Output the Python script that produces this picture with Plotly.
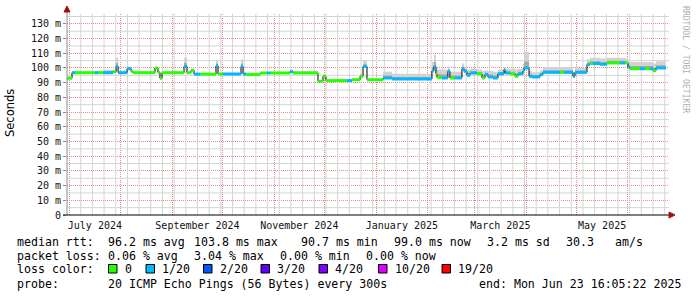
import pandas as pd
import plotly.graph_objects as go

# ---------------- data ----------------
seg_start = [
    "2024-06-29T19:00", "2024-07-02T19:00", "2024-07-04T14:00", "2024-07-16T14:00", "2024-07-18T10:00",
    "2024-07-21T10:00", "2024-07-27T10:00", "2024-07-29T05:00", "2024-07-30T10:00", "2024-08-04T19:00",
    "2024-08-07T05:00", "2024-08-08T10:00", "2024-08-21T12:00", "2024-08-23T07:00", "2024-08-24T12:00",
    "2024-08-25T17:00", "2024-09-07T22:00", "2024-09-09T17:00", "2024-09-12T02:00", "2024-09-13T22:00",
    "2024-09-17T12:00", "2024-09-27T02:00", "2024-09-28T07:00", "2024-10-01T07:00", "2024-10-12T02:00",
    "2024-10-13T07:00", "2024-10-15T02:00", "2024-10-23T12:00", "2024-10-27T17:00", "2024-10-29T12:00",
    "2024-11-10T10:00", "2024-11-12T05:00", "2024-11-27T05:00", "2024-11-30T05:00", "2024-12-02T00:00",
    "2024-12-14T14:00", "2024-12-17T14:00", "2024-12-22T10:00", "2024-12-24T05:00", "2024-12-26T14:00",
    "2025-01-05T05:00", "2025-01-10T14:00", "2025-02-03T12:00", "2025-02-04T17:00", "2025-02-05T22:00",
    "2025-02-06T12:00", "2025-02-09T12:00", "2025-02-13T02:00", "2025-02-14T07:00", "2025-02-17T07:00",
    "2025-02-21T12:00", "2025-02-22T17:00", "2025-02-24T12:00", "2025-02-26T07:00", "2025-03-02T12:00",
    "2025-03-05T12:00", "2025-03-07T07:00", "2025-03-09T02:00", "2025-03-12T02:00", "2025-03-15T02:00",
    "2025-03-18T17:00", "2025-03-19T07:00", "2025-03-22T07:00", "2025-03-25T07:00", "2025-03-27T02:00",
    "2025-03-30T02:00", "2025-03-30T17:00", "2025-04-02T17:00", "2025-04-04T12:00", "2025-04-09T07:00",
    "2025-04-11T02:00", "2025-04-21T07:00", "2025-04-23T17:00", "2025-04-29T00:00", "2025-04-30T05:00",
    "2025-05-07T10:00", "2025-05-09T05:00", "2025-05-11T00:00", "2025-05-15T05:00", "2025-05-19T10:00",
    "2025-05-27T05:00", "2025-05-30T05:00", "2025-06-01T00:00", "2025-06-02T05:00", "2025-06-08T05:00",
    "2025-06-11T05:00", "2025-06-14T05:00", "2025-06-16T00:00", "2025-06-17T19:00",
]
end_time = "2025-06-23T16:05:22"

median_ms = [
    93, 96.8, 96.8, 96.8, 96.8, 96.8, 97.5, 101, 96.8, 99.5,
    97.7, 96.8, 100, 97, 93, 96.8, 101, 96.8, 98.4, 95.8,
    95.8, 101.5, 95.9, 95.9, 101, 95.9, 95.5, 96.6, 96.6, 96.6,
    97.5, 96.6, 91, 94.3, 91.4, 91.4, 92, 94.3, 101, 92,
    93.2, 92.5, 98, 101, 96, 93.6, 93.2, 97.7, 93.2, 93.2,
    99.5, 97.7, 95, 96.6, 96, 93.2, 95.5, 93.9, 93.2, 96,
    98.9, 96.6, 96, 94.3, 96, 98, 100, 94.3, 93.9, 95.5,
    97, 97, 97, 94.3, 97, 102.3, 103, 103, 102.5, 103.4,
    103.4, 103.4, 100.5, 99.5, 99.5, 99.5, 99.5, 98.2, 100,
]

loss_of_20 = [
    0, 1, 0, 1, 0, 1, 0, 1, 1, 1,
    0, 0, 0, 0, 0, 0, 1, 0, 0, 1,
    0, 1, 0, 1, 1, 1, 0, 0, 1, 0,
    1, 0, 0, 0, 0, 1, 0, 0, 1, 0,
    1, 1, 1, 1, 0, 0, 1, 1, 0, 1,
    1, 1, 1, 1, 0, 0, 1, 1, 1, 1,
    1, 1, 0, 0, 1, 1, 1, 1, 1, 1,
    1, 0, 1, 1, 1, 1, 0, 1, 1, 0,
    1, 0, 1, 0, 1, 0, 1, 0, 1,
]

smoke_hi_ms = [
    93.5, 97.5, 97.3, 97.5, 97.3, 98.8, 98, 107, 97.5, 101,
    98, 97.5, 100.5, 97.5, 93.5, 97.3, 107, 97.3, 99, 96.3,
    96.3, 105.5, 96.4, 96.4, 106, 96.4, 96, 97.1, 97.1, 97.1,
    98, 98, 91.5, 95, 91.9, 91.9, 92.5, 96, 105, 92.7,
    97.5, 96, 104, 109, 100, 99, 99, 101, 97.5, 97.5,
    103, 101, 99, 99.5, 99, 98, 98.5, 98, 97.5, 99,
    100.5, 99.5, 99.5, 99, 99.5, 103, 111, 98, 97, 98.5,
    100.5, 100.5, 100.5, 97, 100, 106, 107, 107, 106.5, 107,
    107, 106.5, 104.5, 104, 104, 104, 104, 103, 104.5,
]

y_tick_vals = [0, 10, 20, 30, 40, 50, 60, 70, 80, 90, 100, 110, 120, 130]
y_tick_text = ["0", "10 m", "20 m", "30 m", "40 m", "50 m", "60 m", "70 m",
               "80 m", "90 m", "100 m", "110 m", "120 m", "130 m"]
month_label_dates = ["2024-07-16T12:00", "2024-09-16", "2024-11-16",
                     "2025-01-16T12:00", "2025-03-16T12:00", "2025-05-16T12:00"]
month_labels = ["July 2024", "September 2024", "November 2024",
                "January 2025", "March 2025", "May 2025"]

loss_labels = ["0", "1/20", "2/20", "3/20", "4/20", "10/20", "19/20"]
loss_colors = ["#26ff00", "#00b8ff", "#0059ff", "#5e00ff", "#7e00ff", "#dd00ff", "#ff0000"]
loss_level_color = {0: loss_colors[0], 1: loss_colors[1]}

legend_rows = [
    [("median rtt:", 16), ("96.2 ms avg", 107), ("103.8 ms max", 193), ("90.7 ms min", 300),
     ("99.0 ms now", 393), ("3.2 ms sd", 486), ("30.3", 565), ("am/s", 614)],
    [("packet loss:", 16), ("0.06 % avg", 107), ("3.04 % max", 193), ("0.00 % min", 279),
     ("0.00 % now", 365)],
    [("loss color:", 16)],
    [("probe:", 16), ("20 ICMP Echo Pings (56 Bytes) every 300s", 107),
     ("end: Mon Jun 23 16:05:22 2025", 478)],
]
legend_row_y = [242, 255.5, 269, 283.5]
loss_box_x = [108.5, 146, 203.5, 261, 319, 378.5, 442]

# ---------------- geometry helpers (pixels -> paper) ----------------
W, H = 697, 297
L, R, T, B = 67, 28, 14, 82
PW, PH = W - L - R, H - T - B


def px(xp):
    return (xp - L) / PW


def py(yp):
    return (H - B - yp) / PH


x_range = ["2024-06-29T19:00", "2025-06-25T14:00"]
y_range = [0, 136.7]

x_step = seg_start + [end_time]
y_step = median_ms + [median_ms[-1]]
hi_step = smoke_hi_ms + [smoke_hi_ms[-1]]
inner_step = [m + 0.4 * (h - m) for m, h in zip(y_step, hi_step)]

major_grid = "rgb(226,140,140)"
minor_grid = "rgb(212,212,212)"
mono = "DejaVu Sans Mono"

fig = go.Figure()

# minor grid (weekly vertical, every 5 ms horizontal) as the bottom-most layer
gx, gy = [], []
for d in pd.date_range("2024-07-01", x_range[1], freq="7D"):
    if d.day == 1:
        continue
    ds = d.strftime("%Y-%m-%d")
    gx += [ds, ds, None]
    gy += [y_range[0], y_range[1], None]
for v in range(5, 140, 10):
    gx += [x_range[0], x_range[1], None]
    gy += [v, v, None]
fig.add_trace(go.Scatter(x=gx, y=gy, mode="lines", connectgaps=False,
                         line=dict(color=minor_grid, width=1),
                         hoverinfo="skip", showlegend=False))

# smoke (outer light band, inner darker band)
fig.add_trace(go.Scatter(x=x_step, y=y_step, mode="lines", line=dict(width=0, shape="hv"),
                         hoverinfo="skip", showlegend=False))
fig.add_trace(go.Scatter(x=x_step, y=hi_step, mode="lines", line=dict(width=0, shape="hv"),
                         fill="tonexty", fillcolor="#d2d2d2", hoverinfo="skip", showlegend=False))
fig.add_trace(go.Scatter(x=x_step, y=y_step, mode="lines", line=dict(width=0, shape="hv"),
                         hoverinfo="skip", showlegend=False))
fig.add_trace(go.Scatter(x=x_step, y=inner_step, mode="lines", line=dict(width=0, shape="hv"),
                         fill="tonexty", fillcolor="#a8a8a8", hoverinfo="skip", showlegend=False))

# black median line (step) -- on overlay axis so it sits above the smoke
fig.add_trace(go.Scatter(x=x_step, y=y_step, mode="lines", xaxis="x2",
                         line=dict(width=1, shape="hv", color="#000000"),
                         hoverinfo="skip", showlegend=False))

# coloured median segments by loss (drawn last, on top)
for lvl in (0, 1):
    xs, ys = [], []
    for i in range(len(seg_start)):
        if loss_of_20[i] != lvl:
            continue
        x1 = seg_start[i + 1] if i + 1 < len(seg_start) else end_time
        xs += [seg_start[i], x1, None]
        ys += [median_ms[i], median_ms[i], None]
    fig.add_trace(go.Scatter(x=xs, y=ys, mode="lines", xaxis="x2",
                             line=dict(width=3, color=loss_level_color[lvl]),
                             connectgaps=False, hoverinfo="skip", showlegend=False))

annotations = []
shapes = []

# legend text rows
for row, yc in zip(legend_rows, legend_row_y):
    for text, xl in row:
        annotations.append(dict(text=text, x=px(xl - 1), y=py(yc), xref="paper", yref="paper",
                                xanchor="left", yanchor="middle", showarrow=False,
                                font=dict(family=mono, size=11.6, color="#000000")))

# loss colour boxes + labels
for lab, col, bx in zip(loss_labels, loss_colors, loss_box_x):
    shapes.append(dict(type="rect", xref="paper", yref="paper",
                       x0=px(bx), x1=px(bx + 8.5), y0=py(273), y1=py(264.5),
                       fillcolor=col, line=dict(color="#000000", width=1)))
    annotations.append(dict(text=lab, x=px(bx + 15 - 1), y=py(legend_row_y[2]),
                            xref="paper", yref="paper", xanchor="left", yanchor="middle",
                            showarrow=False, font=dict(family=mono, size=11.6, color="#000000")))

# y-axis title
annotations.append(dict(text="Seconds", x=px(10), y=py(113), xref="paper", yref="paper",
                        textangle=-90, showarrow=False, xanchor="center", yanchor="middle",
                        font=dict(family="DejaVu Sans", size=11.5, color="#000000")))
# watermark
annotations.append(dict(text="RRDTOOL / TOBI OETIKER", x=px(686), y=py(59), xref="paper",
                        yref="paper", textangle=90, showarrow=False, xanchor="center",
                        yanchor="middle", font=dict(family=mono, size=8.1, color="#b0b0b0")))

# axis lines + arrows
shapes.append(dict(type="line", xref="paper", yref="paper", x0=px(67), x1=px(67),
                   y0=py(215), y1=py(9), line=dict(color="#8c8c8c", width=1)))
shapes.append(dict(type="line", xref="paper", yref="paper", x0=px(63), x1=px(670),
                   y0=py(215), y1=py(215), line=dict(color="#000000", width=1)))
shapes.append(dict(type="path", xref="paper", yref="paper",
                   path=f"M {px(64)} {py(12)} L {px(70)} {py(12)} L {px(67)} {py(6)} Z",
                   fillcolor="#a01010", line=dict(color="#a01010", width=1)))
shapes.append(dict(type="path", xref="paper", yref="paper",
                   path=f"M {px(669)} {py(212)} L {px(669)} {py(218)} L {px(675)} {py(215)} Z",
                   fillcolor="#a01010", line=dict(color="#a01010", width=1)))

fig.update_layout(
    width=W, height=H,
    margin=dict(l=L, r=R, t=T, b=B, pad=0),
    paper_bgcolor="#ffffff", plot_bgcolor="#ffffff",
    showlegend=False, hovermode=False,
    xaxis=dict(type="date", range=x_range, showgrid=True, gridcolor=major_grid,
               griddash="1px,1px", gridwidth=1, dtick="M1", tick0="2024-07-01",
               showticklabels=False, ticks="", showline=False, zeroline=False),
    xaxis2=dict(type="date", overlaying="x", matches="x", anchor="y", side="bottom",
                tickmode="array", tickvals=month_label_dates, ticktext=month_labels,
                showgrid=False, ticks="", showline=False, zeroline=False,
                ticklabelstandoff=3,
                tickfont=dict(family=mono, size=10, color="#111111")),
    yaxis=dict(range=y_range, tickmode="array", tickvals=y_tick_vals, ticktext=y_tick_text,
               showgrid=True, gridcolor=major_grid, griddash="1px,1px", gridwidth=1,
               showline=False, zeroline=False, ticks="outside", ticklen=3,
               tickcolor="#8c8c8c",
               tickfont=dict(family=mono, size=10, color="#111111")),
    annotations=annotations,
    shapes=shapes,
)

fig.write_html("out.html")
